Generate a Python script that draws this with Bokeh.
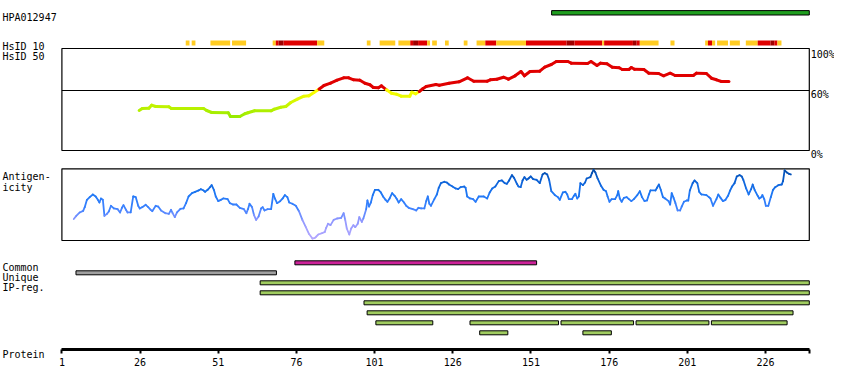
from bokeh.plotting import figure
from bokeh.models import Range1d, LinearAxis, FixedTicker
from bokeh.core.properties import value
from bokeh.embed import file_html
from bokeh.resources import INLINE

# ---------------- data ----------------
antibody = "HPA012947"
protein_length = 240
hpa_start, hpa_end = 157.6, 240

tick_values = [1, 26, 51, 76, 101, 126, 151, 176, 201, 226]

# HsID 10 similarity blocks (level: 1 = partial, 2 = high, 3 = highest)
hsid10_start = [40.6, 42.5, 48.5, 55.4, 68.4, 69.4, 70.3, 71.9, 82.6, 98.5,
                102.6, 108.6, 112.4, 113.3, 114.9, 117.8, 119.4, 123.5, 129.5, 133.6,
                136.4, 139.9, 149.4, 162.4, 164.9, 173.8, 174.4, 183.6, 184.8, 185.8,
                195.6, 206.7, 207.6, 208.9, 210.5, 214.6, 219.7, 223.5, 227.6, 228.8,
                229.8]
hsid10_end = [41.8, 43.7, 54.8, 59.9, 69.4, 70.3, 71.9, 82.6, 84.9, 99.7,
              107.6, 112.4, 113.3, 114.9, 117.8, 118.7, 120.9, 124.7, 130.7, 136.4,
              139.9, 149.4, 162.4, 164.9, 173.8, 174.4, 183.6, 184.8, 185.8, 191.8,
              196.9, 207.6, 208.9, 209.9, 214.0, 217.8, 223.5, 227.6, 228.8, 229.8,
              231.1]
hsid10_level = [1, 1, 1, 1, 1, 2, 3, 2, 1, 1,
                1, 1, 2, 3, 2, 1, 1, 1, 1, 1,
                2, 1, 2, 3, 2, 1, 2, 3, 2, 1,
                1, 1, 2, 1, 1, 1, 1, 2, 3, 2,
                1]

# HsID 50 identity curve (percent)
hsid50_pos = [25.7, 26.7, 28.8, 29.7, 31.0, 35.2, 36.0, 46.3, 47.3, 48.9,
              54.2, 54.9, 57.9, 59.5, 60.5, 62.6, 67.9, 68.9, 71.0, 72.6,
              74.2, 76.3, 78.4, 80.0, 81.6, 83.2, 84.8, 86.9, 89.0, 91.1,
              92.7, 94.3, 96.3, 97.9, 99.5, 100.6, 102.2, 103.2, 104.8, 106.4,
              108.0, 109.5, 112.2, 112.9, 114.1, 115.3, 116.4, 117.5, 120.6, 121.7,
              124.8, 128.0, 130.7, 132.7, 137.0, 138.0, 140.1, 142.2, 143.8, 145.9,
              147.8, 148.9, 150.7, 153.8, 155.4, 157.5, 159.1, 162.8, 163.9, 169.1,
              170.2, 172.1, 173.2, 175.3, 177.0, 179.2, 180.2, 182.3, 183.1, 184.1,
              187.1, 188.7, 191.8, 193.4, 195.5, 197.1, 202.9, 203.9, 207.1, 208.7,
              210.3, 211.9, 214.3]
hsid50_pct = [40, 42, 42.3, 45.3, 44, 43.7, 42, 42, 40, 38,
              37.7, 34, 34, 36.7, 37.7, 39.7, 39.7, 41.3, 43.3, 44,
              48, 51.3, 54.3, 54.7, 58, 61.3, 65, 67.3, 70.3, 72.7,
              72.7, 70.7, 70.3, 67.3, 65.7, 63, 62.7, 64.7, 60.7, 57.3,
              56.3, 54.3, 54.3, 58.3, 56.7, 59, 61.7, 64, 66, 65.3,
              67.3, 68.7, 72.7, 69.3, 69.3, 70.7, 71.3, 73.3, 71.3, 74.7,
              79, 74.7, 79, 79.3, 83.3, 86, 89, 89, 87.3, 87,
              89, 85, 87.3, 86.7, 83.3, 82.7, 81, 81, 83, 81.3,
              81, 77.3, 77, 74.7, 77.3, 75, 75, 77.3, 77, 72.3,
              70.7, 69, 69]

# Antigenicity profile (relative score, 0-100)
antigen_pos = [
    4.8, 5.6, 6.7, 7.8, 8.3, 9.0, 9.9, 10.9, 11.8, 12.5, 13.0, 13.5, 14.1, 14.6, 15.4, 16.0, 16.7, 17.6, 18.8, 19.6,
    20.2, 20.7, 21.5, 22.0, 23.0, 23.8, 24.6, 25.4, 25.9, 26.7, 27.8, 28.6, 29.4, 29.9, 31.0, 31.8, 32.7, 34.1, 35.2, 35.9,
    36.4, 37.1, 37.8, 38.9, 39.9, 40.7, 41.5, 42.6, 43.6, 44.7, 45.4, 46.3, 46.8, 47.6, 48.4, 48.9, 49.6, 50.2, 51.0, 51.8,
    52.6, 54.0, 54.7, 55.7, 56.8, 57.9, 59.2, 60.0, 60.5, 61.0, 61.8, 62.4, 63.1, 63.9, 64.7, 65.2, 65.8, 66.8, 67.9, 68.6,
    69.1, 69.8, 70.8, 71.6, 72.3, 73.1, 73.7, 74.7, 75.8, 76.8, 77.9, 79.0, 80.0, 81.1, 81.8, 82.4,
    83.0, 84.2, 85.1, 85.5, 86.1, 86.9, 87.9, 89.0, 90.3, 91.1, 91.6, 92.1, 92.9, 93.5, 94.2, 94.8, 95.6, 96.1, 96.9, 97.4,
    98.3, 98.7, 99.2, 99.8, 100.4, 101.1, 102.2, 103.0, 103.7, 104.5, 105.1, 105.8, 106.6, 107.4, 108.0, 108.7, 109.5, 110.4, 111.1, 111.9,
    113.2, 114.3, 115.0, 115.9, 116.9, 117.5, 118.0, 118.5, 119.0, 120.1, 120.9, 121.5, 122.2, 123.3, 124.1, 124.8, 125.9, 126.9, 127.7, 128.5,
    129.6, 130.1, 130.6, 131.5, 132.5, 133.3, 134.3, 135.9, 137.0, 137.8, 138.6, 139.6, 140.7, 141.7, 142.6, 143.3, 144.0, 144.9, 145.6, 146.5,
    147.0, 147.7, 148.3, 148.9, 149.6, 150.2, 150.9, 151.7, 152.8, 153.8, 154.7, 155.4, 156.2, 156.8, 157.5, 158.6, 159.6, 160.2,
    161.2, 162.0, 162.6, 163.1, 164.1, 164.7, 165.2, 165.8, 166.3, 166.8, 167.6, 168.3, 168.8, 170.0, 170.5, 171.0, 171.6, 172.3, 173.4, 174.2,
    175.0, 175.5, 176.1, 176.8, 177.9, 178.6, 178.9, 179.4, 180.0, 180.7, 181.6, 182.3, 183.1, 183.9, 185.0, 185.8, 186.5, 187.3, 188.1, 188.7,
    189.2, 190.8, 191.3, 191.9, 192.5, 193.2, 193.9, 195.0, 195.5, 196.0, 196.6, 197.2, 197.9, 198.7, 199.2, 199.9, 200.8, 201.3, 201.8, 202.7,
    203.3, 204.2, 204.8, 205.5, 207.1, 207.9, 208.4, 209.2, 210.3, 210.9, 211.6, 212.4, 213.2, 214.0, 214.7, 215.3, 216.1, 216.8, 217.7, 218.4,
    218.9, 219.8, 220.6, 221.4, 221.9, 222.5, 223.5, 224.0, 224.7, 225.0, 225.6, 226.1, 226.9, 227.7, 228.4, 229.1, 230.1, 231.2, 231.6, 232.1,
    232.8, 233.5, 234.1]
antigen_val = [
    30, 34.4, 39.1, 41.4, 46.5, 56.7, 60.5, 64.2, 61.4, 56.7, 53.0, 58.6, 56.7, 34.4, 37.2, 40.5, 48.4, 44.7, 43.7, 39.1,
    45.6, 49.3, 42.8, 39.1, 39.1, 61.4, 60.5, 48.4, 44.7, 46.5, 49.8, 46.5, 42.8, 40.9, 48.4, 47.4, 41.9, 38.1, 37.2, 42.8,
    38.1, 32.6, 39.1, 44.2, 44.7, 52.1, 61.4, 66.0, 67.9, 69.8, 71.6, 69.8, 67.9, 70.7, 74.4, 77.2, 70.7, 61.4, 54.9, 56.7,
    58.6, 57.7, 52.1, 50.2, 50.2, 45.6, 43.7, 38.1, 43.7, 51.2, 46.5, 35.8, 28.8, 33.5, 44.7, 46.5, 41.9, 43.7, 43.7, 65.1,
    58.6, 52.1, 54.9, 58.6, 63.3, 60.5, 53.0, 51.2, 48.4, 40.9, 28.8, 18.6, 9.3, 2.8, 3.3, 5.6,
    8.4, 10.2, 12.1, 17.7, 23.3, 21.4, 28.8, 30.7, 31.6, 38.1, 28.8, 16.7, 8.4, 16.7, 21.4, 18.6, 23.3, 32.6, 26.0, 30.7,
    43.7, 55.8, 47.4, 53.0, 63.3, 70.7, 70.7, 67.0, 61.4, 56.7, 54.0, 58.6, 66.0, 62.3, 58.6, 53.0, 57.7, 53.0, 48.4, 45.6,
    43.7, 41.9, 45.6, 44.7, 44.7, 54.9, 61.4, 51.2, 48.4, 57.7, 64.2, 73.5, 80.0, 81.9, 80.9, 78.1, 75.3, 72.6, 71.6, 74.4,
    75.3, 73.5, 61.4, 58.6, 57.7, 54.0, 61.4, 61.4, 58.6, 67.0, 72.6, 75.3, 82.8, 83.7, 80.0, 79.1, 83.7, 91.2, 87.4, 79.1,
    75.3, 74.4, 83.7, 88.4, 84.7, 86.5, 89.3, 85.6, 84.7, 80.0, 92.1, 94.0, 92.1, 84.7, 68.8, 63.5, 60.5, 56.7,
    67.0, 67.9, 64.2, 57.7, 57.7, 62.3, 65.1, 58.6, 61.4, 80.0, 77.2, 80.9, 86.5, 88.4, 94.0, 98.6, 94.9, 86.5, 76.3, 70.7,
    68.8, 61.4, 54.0, 57.7, 57.7, 63.3, 68.8, 58.6, 54.0, 59.5, 60.5, 57.7, 54.9, 57.7, 63.3, 68.8, 60.5, 54.9, 55.8, 64.2,
    69.8, 69.8, 73.5, 78.1, 70.7, 60.5, 58.6, 54.9, 50.2, 66.0, 59.5, 52.1, 41.9, 41.9, 47.4, 54.0, 55.8, 55.8, 69.8, 80.0,
    83.7, 80.0, 67.9, 64.2, 63.3, 60.5, 58.6, 48.4, 57.7, 64.2, 59.5, 54.9, 56.7, 62.3, 69.8, 75.3, 80.0, 89.3, 91.2, 89.3,
    84.7, 72.6, 64.2, 71.6, 78.1, 70.7, 62.3, 58.6, 60.5, 63.3, 57.7, 48.4, 48.4, 60.5, 70.7, 74.4, 77.2, 78.1, 82.8, 97.7,
    94.9, 93.0, 92.1]

# Feature regions (residues)
common_start, common_end = 75.5, 152.8
unique_start, unique_end = 5.5, 69.6
ip_row = [0, 1, 2, 3, 4, 4, 4, 4, 4, 5, 5]
ip_start = [64.4, 64.4, 97.6, 98.6, 101.4, 131.5, 160.6, 184.6, 208.7, 134.6, 167.6]
ip_end = [240, 240, 240, 234.8, 119.6, 159.8, 183.8, 207.9, 232.9, 143.6, 176.7]

assert len(antigen_pos) == len(antigen_val)
assert len(hsid50_pos) == len(hsid50_pct)

# ---------------- layout / style ----------------
FONT = "DejaVu Sans Mono"
FS = "10px"
W, H = 834, 374
PX_FIRST, PX_LAST = 61.4, 808.8      # pixel positions of residue 1 and last residue
scale = (PX_LAST - PX_FIRST) / (protein_length - 1)
x_start = 1 - PX_FIRST / scale
x_end = protein_length + (W - PX_LAST) / scale

AXIS_Y = 349                          # page row of the protein axis

# vertical layout (page pixel rows)
Y_HPA = 12.3
Y_H10_TOP, Y_H10_BOT = 40, 45
BOX1_TOP, BOX1_BOT = 48, 150
BOX2_TOP, BOX2_BOT = 168.3, 240
Y_COMMON, Y_UNIQUE, Y_IP0, ROW_STEP = 262.3, 272.3, 282.3, 10
BAR_HALF = 2
AG_PX = (BOX2_BOT - BOX2_TOP) / 100

p = figure(width=W, height=H, x_range=Range1d(x_start, x_end), y_range=Range1d(H, 0),
           x_axis_type=None, y_axis_type=None, toolbar_location=None,
           output_backend="svg", min_border_left=0, min_border_right=0,
           min_border_top=0, min_border_bottom=0, outline_line_color=None,
           background_fill_color="white", border_fill_color="white")
p.grid.visible = False

# pct range: page y = 150 - pct ; antigenicity range: page y = 240 - AG_PX * v
p.extra_y_ranges = {
    "pct": Range1d(start=BOX1_BOT - H, end=BOX1_BOT),
    "ag": Range1d(start=(BOX2_BOT - H) / AG_PX, end=BOX2_BOT / AG_PX),
}


def mix(stops, v):
    if v <= stops[0][0]:
        c = stops[0][1]
    elif v >= stops[-1][0]:
        c = stops[-1][1]
    else:
        for (v0, c0), (v1, c1) in zip(stops, stops[1:]):
            if v0 <= v <= v1:
                t = (v - v0) / (v1 - v0)
                c = tuple(int(round(a + (b - a) * t)) for a, b in zip(c0, c1))
                break
    return "#%02x%02x%02x" % c


# antibody bar
p.quad(left=[hpa_start], right=[hpa_end], top=[Y_HPA - 2.2], bottom=[Y_HPA + 2.2],
       fill_color="#1f9e1f", line_color="black", line_width=1)

# HsID 10 blocks
lvl_col = {1: "#ffcc22", 2: "#e00000", 3: "#a00000"}
p.quad(left=hsid10_start, right=hsid10_end, top=[Y_H10_TOP] * len(hsid10_start),
       bottom=[Y_H10_BOT] * len(hsid10_start),
       fill_color=[lvl_col[l] for l in hsid10_level], line_color=None)

# panel boxes
p.quad(left=[1, 1], right=[protein_length, protein_length], top=[BOX1_TOP, BOX2_TOP],
       bottom=[BOX1_BOT, BOX2_BOT], fill_color=None, line_color="black", line_width=1.2)
p.segment(x0=[1], x1=[protein_length], y0=[60], y1=[60], y_range_name="pct",
          line_color="black", line_width=1.2)

# HsID 50 curve
hs_stops = [(30, (136, 232, 0)), (60, (255, 255, 0))]
hs_cols = []
for a, b in zip(hsid50_pct[:-1], hsid50_pct[1:]):
    m = (a + b) / 2
    hs_cols.append("#e00000" if m >= 60 else mix(hs_stops, m))
p.segment(x0=hsid50_pos[:-1], x1=hsid50_pos[1:], y0=hsid50_pct[:-1], y1=hsid50_pct[1:],
          y_range_name="pct", line_color=hs_cols, line_width=3, line_cap="round")

# Antigenicity curve
ag_stops = [(0, (185, 170, 255)), (30, (140, 150, 255)), (45, (60, 130, 255)),
            (65, (30, 120, 245)), (85, (10, 95, 210)), (100, (0, 70, 160))]
ag_cols = [mix(ag_stops, (a + b) / 2) for a, b in zip(antigen_val[:-1], antigen_val[1:])]
p.segment(x0=antigen_pos[:-1], x1=antigen_pos[1:], y0=antigen_val[:-1], y1=antigen_val[1:],
          y_range_name="ag", line_color=ag_cols, line_width=1.8, line_cap="round")

# feature bars
p.quad(left=[common_start], right=[common_end], top=[Y_COMMON - BAR_HALF],
       bottom=[Y_COMMON + BAR_HALF], fill_color="#cc2299", line_color="black", line_width=1)
p.quad(left=[unique_start], right=[unique_end], top=[Y_UNIQUE - BAR_HALF],
       bottom=[Y_UNIQUE + BAR_HALF], fill_color="#a0a0a0", line_color="black", line_width=1)
ip_y = [Y_IP0 + r * ROW_STEP for r in ip_row]
p.quad(left=ip_start, right=ip_end, top=[y - BAR_HALF for y in ip_y],
       bottom=[y + BAR_HALF for y in ip_y], fill_color="#a0cc60", line_color="black",
       line_width=1)

# left labels
left_text = [antibody, "HsID 10", "HsID 50", "Antigen-", "icity", "Common", "Unique",
             "IP-reg.", "Protein"]
left_y = [16.5, 46, 56, 176, 186.5, 266.5, 276.5, 286.5, 353.5]
p.text(x=[x_start] * len(left_text), y=left_y, text=left_text, x_offset=2,
       text_font=value(FONT), text_font_size=FS, text_baseline="alphabetic",
       text_align="left", text_color="black")

# right percent labels
p.text(x=[protein_length] * 3, y=[100, 60, 0], text=["100%", "60%", "0%"],
       y_range_name="pct", x_offset=1.5, y_offset=[4, 4, 4],
       text_font=value(FONT), text_font_size=FS, text_baseline="alphabetic",
       text_align="left", text_color="black")

# protein axis (drawn at a fixed row inside the frame)
axis = LinearAxis(ticker=FixedTicker(ticks=tick_values + [protein_length]),
                  major_label_overrides={protein_length: ""}, fixed_location=AXIS_Y,
                  bounds=(1, protein_length), axis_line_width=3, axis_line_color="black",
                  major_tick_line_width=2, major_tick_line_color="black",
                  major_tick_in=0, major_tick_out=4, minor_tick_line_color=None,
                  major_label_text_font=FONT, major_label_text_font_size=FS,
                  major_label_text_color="black", major_label_standoff=4)
p.add_layout(axis, "below")

open("out.html", "w").write(file_html(p, INLINE))
